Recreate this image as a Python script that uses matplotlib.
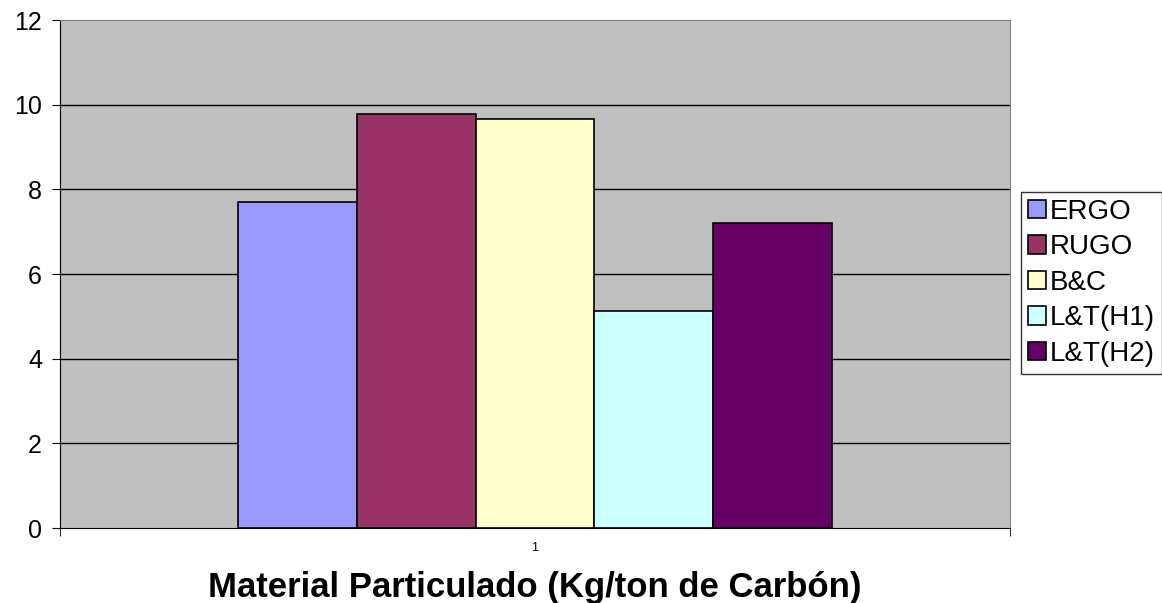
import matplotlib.pyplot as plt
import numpy as np

# data
series = ['ERGO', 'RUGO', 'B&C', 'L&T(H1)', 'L&T(H2)']
values = [7.69, 9.79, 9.65, 5.12, 7.20]
colors = ['#9999FF', '#993366', '#FFFFCC', '#CCFFFF', '#660066']
category = [1]

plt.rcParams['font.family'] = ['Liberation Sans', 'DejaVu Sans']

fig = plt.figure(figsize=(11.62, 6.03), dpi=100)
ax = fig.add_axes([60/1162, 1-528/603, 950/1162, 508/603])
ax.set_facecolor('#C0C0C0')

n = len(series)
group = 1/1.6
w = group/n
for i in range(n):
    x = category[0] - group/2 + w*(i + 0.5)
    ax.bar(x, values[i], width=w, color=colors[i], edgecolor='black',
           linewidth=1.2, label=series[i], zorder=3)

ax.set_xlim(0.5, 1.5)
ax.set_ylim(0, 12)
ax.set_yticks(np.arange(0, 13, 2))
ax.tick_params(axis='y', labelsize=18, length=6, direction='out', pad=7)
for yv in range(2, 12, 2):
    ax.axhline(yv, color='black', linewidth=1, zorder=1)

ax.set_xticks(category)
ax.set_xticklabels(['1'], fontsize=9)
ax.tick_params(axis='x', length=0, pad=10)
ax.set_xticks([0.5, 1.5], minor=True)
ax.tick_params(axis='x', which='minor', length=6, direction='out')

for s in ['top', 'right']:
    ax.spines[s].set_color('#808080')
ax.spines['left'].set_color('black')
ax.spines['bottom'].set_color('black')

ax.set_xlabel('Material Particulado (Kg/ton de Carbón)', fontsize=25,
              fontweight='bold', labelpad=12)

leg = fig.legend(loc='upper left', bbox_to_anchor=(1021/1162, 1-192/603),
                 fontsize=20, frameon=True, fancybox=False, edgecolor='black',
                 handlelength=0.65, handleheight=0.65, handletextpad=0.15,
                 labelspacing=0.34, borderpad=0.25, borderaxespad=0)
leg.get_frame().set_linewidth(1)

fig.savefig('out.png', dpi=100)
